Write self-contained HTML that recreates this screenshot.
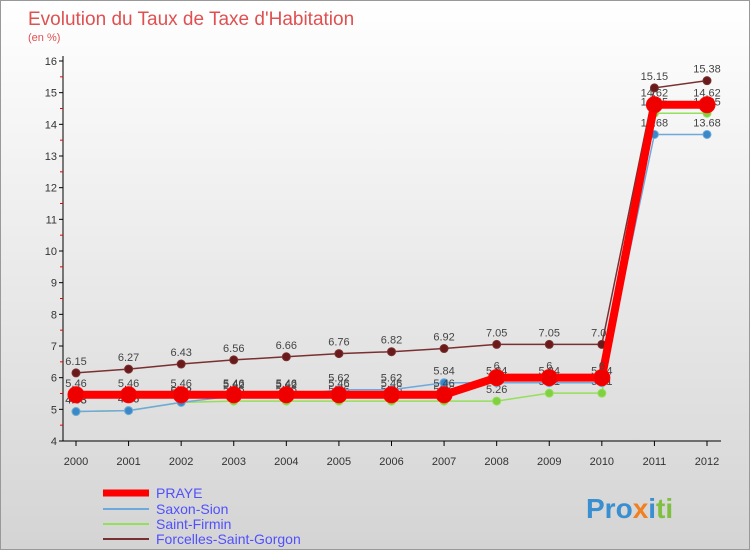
<!DOCTYPE html>
<html><head><meta charset="utf-8"><style>
body{margin:0;width:750px;height:550px;overflow:hidden;font-family:"Liberation Sans",sans-serif}
#c{position:absolute;left:0;top:0;width:748px;height:548px;border:1px solid #999;background:linear-gradient(#ffffff,#d4d4d4)}
</style></head><body>
<div id="c">
<svg id="s" width="750" height="550" xmlns="http://www.w3.org/2000/svg">
<text x="27" y="24" font-size="19" fill="#e05050">Evolution du Taux de Taxe d'Habitation</text>
<text x="27" y="40" font-size="11" fill="#e05050">(en %)</text>
<g id="g"></g>
<g font-size="14" fill="#5050ff">
<line x1="102" y1="492" x2="148" y2="492" stroke="#ff0000" stroke-width="7"/><text x="155" y="497">PRAYE</text>
<line x1="102" y1="508" x2="148" y2="508" stroke="#6fa8dc" stroke-width="2"/><text x="155" y="513">Saxon-Sion</text>
<line x1="102" y1="523" x2="148" y2="523" stroke="#93e05a" stroke-width="2"/><text x="155" y="528">Saint-Firmin</text>
<line x1="102" y1="538" x2="148" y2="538" stroke="#7a3030" stroke-width="2"/><text x="155" y="543">Forcelles-Saint-Gorgon</text>
</g>
<text x="585" y="517" font-size="28" font-weight="bold"><tspan fill="#3a8fd0">Pro</tspan><tspan fill="#f08020">x</tspan><tspan fill="#3a8fd0">i</tspan><tspan fill="#80c040">ti</tspan></text>
</svg></div>
<script>
const years=[2000,2001,2002,2003,2004,2005,2006,2007,2008,2009,2010,2011,2012];
const yTicks=[4,5,6,7,8,9,10,11,12,13,14,15,16];
const praye=[5.46,5.46,5.46,5.46,5.46,5.46,5.46,5.46,6,6,6,14.62,14.62];
const saxon=[4.93,4.96,5.22,5.42,5.42,5.62,5.62,5.84,5.84,5.84,5.84,13.68,13.68];
const firmin=[4.93,4.96,5.22,5.26,5.26,5.26,5.26,5.26,5.26,5.51,5.51,14.35,14.35];
const forcelles=[6.15,6.27,6.43,6.56,6.66,6.76,6.82,6.92,7.05,7.05,7.05,15.15,15.38];
const NS="http://www.w3.org/2000/svg",g=document.getElementById('g');
const X=i=>75+i*(706-75)/(years.length-1);
const Y=v=>440-(v-4)*(380/12);
function el(t,a){const e=document.createElementNS(NS,t);for(const k in a)e.setAttribute(k,a[k]);g.appendChild(e);return e;}
let ax=el('line',{x1:62,y1:55,x2:62,y2:440,stroke:'#000'});


let xa=el('line',{x1:62,y1:440,x2:720,y2:440,stroke:'#000'});


yTicks.forEach(v=>{el('line',{x1:58,y1:Y(v),x2:62,y2:Y(v),stroke:'#000'});
 if(v<16)el('line',{x1:59,y1:Y(v+0.5),x2:62,y2:Y(v+0.5),stroke:'#e00'});
 const t=el('text',{x:56,y:Y(v)+4,'font-size':11,'text-anchor':'end',fill:'#333'});t.textContent=v;
 
 });
years.forEach((yr,i)=>{el('line',{x1:X(i),y1:440,x2:X(i),y2:445,stroke:'#000'});
 const t=el('text',{x:X(i),y:464,'font-size':11,'text-anchor':'middle',fill:'#333'});t.textContent=yr;
 
 });
function series(d,name,col,w,r,dot){
 const p=el('polyline',{points:d.map((v,i)=>X(i)+','+Y(v)).join(' '),fill:'none',stroke:col,'stroke-width':w});
 
 
 d.forEach((v,i)=>{const c=el('circle',{cx:X(i),cy:Y(v),r:r,fill:dot,stroke:col,'stroke-width':1});
  
  
  const t=el('text',{x:X(i),y:Y(v)-8,'font-size':11,'text-anchor':'middle',fill:'#444'});t.textContent=v;
  
  });
}
series(forcelles,'forcelles','#7a3030',1.5,4,'#6a1a1a');
series(firmin,'saint-firmin','#93e05a',1.5,4,'#80d040');
series(saxon,'saxon-sion','#6fa8dc',1.5,4,'#3a88c8');
series(praye,'praye','#ff0000',8,8,'#ee0000');
</script>
</body></html>
